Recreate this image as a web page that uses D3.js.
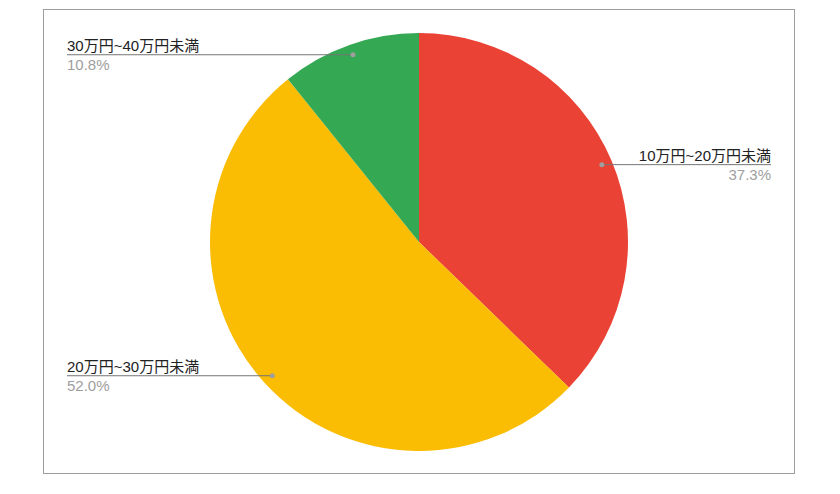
<!DOCTYPE html>
<html>
<head>
<meta charset="utf-8">
<script src="https://cdn.jsdelivr.net/npm/d3@7"></script>
<style>
  body { margin: 0; background: #fff; }
  text { font-family: "Liberation Sans", Arial, "Noto Sans CJK JP", sans-serif; }
</style>
</head>
<body>
<div id="chart"></div>
<script>
const categories = ['10万円~20万円未満', '20万円~30万円未満', '30万円~40万円未満'];
const values = [37.3, 52.0, 10.8];
const labels = ['37.3%', '52.0%', '10.8%'];
const colors = ['#ea4335', '#fbbc04', '#34a853'];

const width = 840;
const height = 494;
const cx = 419;
const cy = 242;
const radius = 209;

const svg = d3.select('#chart')
  .append('svg')
  .attr('width', width)
  .attr('height', height);

// frame around the chart
svg.append('rect')
  .attr('x', 43.5)
  .attr('y', 9.5)
  .attr('width', 751)
  .attr('height', 464)
  .attr('fill', 'none')
  .attr('stroke', '#9e9e9e')
  .attr('stroke-width', 1);

const pie = d3.pie().sort(null).value((d) => d.value);
const arcs = pie(categories.map((c, i) => ({ name: c, value: values[i], label: labels[i], color: colors[i] })));

const arc = d3.arc().innerRadius(0).outerRadius(radius);

const g = svg.append('g').attr('transform', `translate(${cx}, ${cy})`);

g.selectAll('path')
  .data(arcs)
  .join('path')
  .attr('d', arc)
  .attr('fill', (d) => d.data.color);

// leader lines and labels
const dotArc = d3.arc().innerRadius(radius * 0.95).outerRadius(radius * 0.95);

arcs.forEach((d) => {
  const [px, py] = dotArc.centroid(d);
  const x = cx + px;
  const y = cy + py;
  const right = x > cx;
  const textX = right ? 771 : 67;
  const lineY = y;

  svg.append('line')
    .attr('x1', x)
    .attr('y1', lineY)
    .attr('x2', textX)
    .attr('y2', lineY)
    .attr('stroke', '#757575')
    .attr('stroke-width', 1);

  svg.append('circle')
    .attr('cx', x)
    .attr('cy', y)
    .attr('r', 2.5)
    .attr('fill', '#9e9e9e');

  svg.append('text')
    .attr('x', textX)
    .attr('y', lineY - 4)
    .attr('text-anchor', right ? 'end' : 'start')
    .attr('font-size', 15)
    .attr('fill', '#222')
    .text(d.data.name);

  svg.append('text')
    .attr('x', textX)
    .attr('y', lineY + 15)
    .attr('text-anchor', right ? 'end' : 'start')
    .attr('font-size', 15)
    .attr('fill', '#9e9e9e')
    .text(d.data.label);
});
</script>
</body>
</html>
